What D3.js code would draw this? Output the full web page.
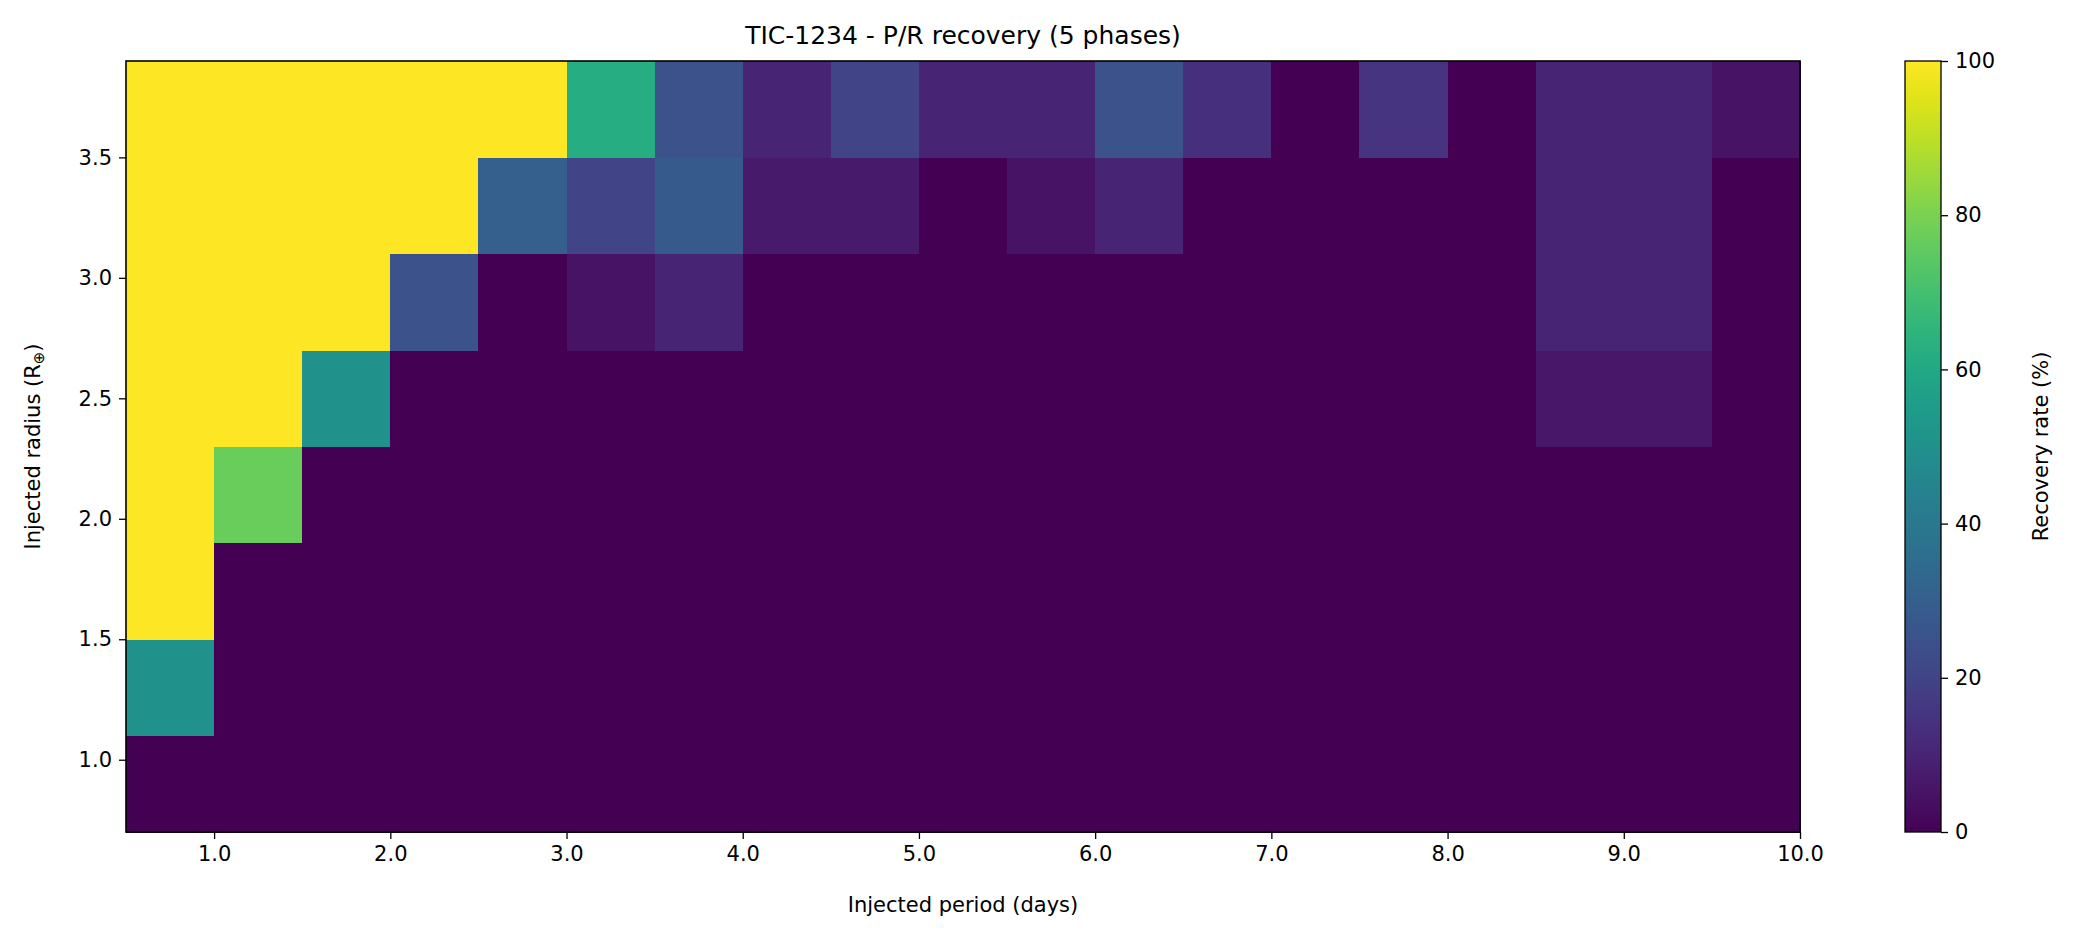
<!DOCTYPE html>
<html>
<head>
<meta charset="utf-8">
<script src="https://cdn.jsdelivr.net/npm/d3@7"></script>
<style>
  body { margin: 0; background: #fff; }
  text { font-family: "DejaVu Sans", sans-serif; fill: #000; }
</style>
</head>
<body>
<script>
const width = 2075;
const height = 939;

// period bin edges (days) and radius bin edges (R_earth)
const periodEdges = [0.5, 1.0, 1.5, 2.0, 2.5, 3.0, 3.5, 4.0, 4.5, 5.0, 5.5, 6.0, 6.5, 7.0, 7.5, 8.0, 8.5, 9.0, 9.5, 10.0];
const radiusEdges = [0.7, 1.1, 1.5, 1.9, 2.3, 2.7, 3.1, 3.5, 3.9];

// recovery rate (%) per radius row, bottom row first, one value per period bin
const recovery = [
  [0, 0, 0, 0, 0, 0, 0, 0, 0, 0, 0, 0, 0, 0, 0, 0, 0, 0, 0],
  [50, 0, 0, 0, 0, 0, 0, 0, 0, 0, 0, 0, 0, 0, 0, 0, 0, 0, 0],
  [100, 0, 0, 0, 0, 0, 0, 0, 0, 0, 0, 0, 0, 0, 0, 0, 0, 0, 0],
  [100, 77, 0, 0, 0, 0, 0, 0, 0, 0, 0, 0, 0, 0, 0, 0, 0, 0, 0],
  [100, 100, 50, 0, 0, 0, 0, 0, 0, 0, 0, 0, 0, 0, 0, 0, 6, 6, 0],
  [100, 100, 100, 25, 0, 5, 10, 0, 0, 0, 0, 0, 0, 0, 0, 0, 10, 10, 0],
  [100, 100, 100, 100, 30, 20, 28, 7, 7, 0, 5, 10, 0, 0, 0, 0, 10, 10, 0],
  [100, 100, 100, 100, 100, 62, 25, 10, 20, 10, 10, 25, 14, 0, 15, 0, 10, 10, 5],
];

const xTicks = [1, 2, 3, 4, 5, 6, 7, 8, 9, 10];
const yTicks = [1.0, 1.5, 2.0, 2.5, 3.0, 3.5];
const cTicks = [0, 20, 40, 60, 80, 100];

const margin = { left: 126, right: 1800, top: 61, bottom: 832 };

const svg = d3.create("svg").attr("width", width).attr("height", height);

const x = d3.scaleLinear().domain([0.5, 10]).range([margin.left, margin.right]);
const y = d3.scaleLinear().domain([0.7, 3.9]).range([margin.bottom, margin.top]);
const color = d3.scaleSequential(d3.interpolateViridis).domain([0, 100]);

const cells = [];
recovery.forEach((row, j) => {
  row.forEach((v, i) => {
    cells.push({ x0: periodEdges[i], x1: periodEdges[i + 1], y0: radiusEdges[j], y1: radiusEdges[j + 1], v });
  });
});

svg.append("g")
  .selectAll("rect")
  .data(cells)
  .join("rect")
  .attr("x", (d) => x(d.x0))
  .attr("y", (d) => y(d.y1))
  .attr("width", (d) => x(d.x1) - x(d.x0) + 0.5)
  .attr("height", (d) => y(d.y0) - y(d.y1) + 0.5)
  .attr("fill", (d) => color(d.v))
  .attr("shape-rendering", "crispEdges");

svg.append("rect")
  .attr("x", margin.left).attr("y", margin.top)
  .attr("width", margin.right - margin.left).attr("height", margin.bottom - margin.top)
  .attr("fill", "none").attr("stroke", "#000").attr("stroke-width", 1.6);

const styleAxis = (g) => {
  g.select(".domain").remove();
  g.selectAll(".tick line").attr("stroke", "#000").attr("stroke-width", 1.3);
  g.selectAll(".tick text").attr("font-size", 21).attr("font-family", "DejaVu Sans");
};

svg.append("g")
  .attr("transform", `translate(0,${margin.bottom})`)
  .call(d3.axisBottom(x).tickValues(xTicks).tickFormat(d3.format(".1f")).tickSize(7).tickPadding(7))
  .call(styleAxis);

svg.append("g")
  .attr("transform", `translate(${margin.left},0)`)
  .call(d3.axisLeft(y).tickValues(yTicks).tickFormat(d3.format(".1f")).tickSize(7).tickPadding(7))
  .call(styleAxis);

svg.append("text")
  .attr("x", (margin.left + margin.right) / 2).attr("y", 44)
  .attr("text-anchor", "middle").attr("font-size", 25)
  .text("TIC-1234 - P/R recovery (5 phases)");

svg.append("text")
  .attr("x", (margin.left + margin.right) / 2).attr("y", 912)
  .attr("text-anchor", "middle").attr("font-size", 21)
  .text("Injected period (days)");

const yl = svg.append("text")
  .attr("transform", `translate(40,${(margin.top + margin.bottom) / 2}) rotate(-90)`)
  .attr("text-anchor", "middle").attr("font-size", 21);
yl.append("tspan").text("Injected radius (R");
yl.append("tspan").attr("font-size", 15).attr("dy", 4).text("⊕");
yl.append("tspan").attr("dy", -4).text(")");

// colorbar
const cb = { x0: 1905, x1: 1941 };
const cy = d3.scaleLinear().domain([0, 100]).range([margin.bottom, margin.top]);
const grad = svg.append("defs").append("linearGradient")
  .attr("id", "viridis").attr("x1", 0).attr("y1", 1).attr("x2", 0).attr("y2", 0);
d3.range(0, 1.0001, 0.05).forEach((t) => {
  grad.append("stop").attr("offset", t).attr("stop-color", d3.interpolateViridis(t));
});
svg.append("rect")
  .attr("x", cb.x0).attr("y", margin.top)
  .attr("width", cb.x1 - cb.x0).attr("height", margin.bottom - margin.top)
  .attr("fill", "url(#viridis)").attr("stroke", "#000").attr("stroke-width", 1.3);

svg.append("g")
  .attr("transform", `translate(${cb.x1},0)`)
  .call(d3.axisRight(cy).tickValues(cTicks).tickSize(7).tickPadding(7))
  .call(styleAxis);

svg.append("text")
  .attr("transform", `translate(2048,${(margin.top + margin.bottom) / 2}) rotate(-90)`)
  .attr("text-anchor", "middle").attr("font-size", 21)
  .text("Recovery rate (%)");

document.body.appendChild(svg.node());
</script>
</body>
</html>
